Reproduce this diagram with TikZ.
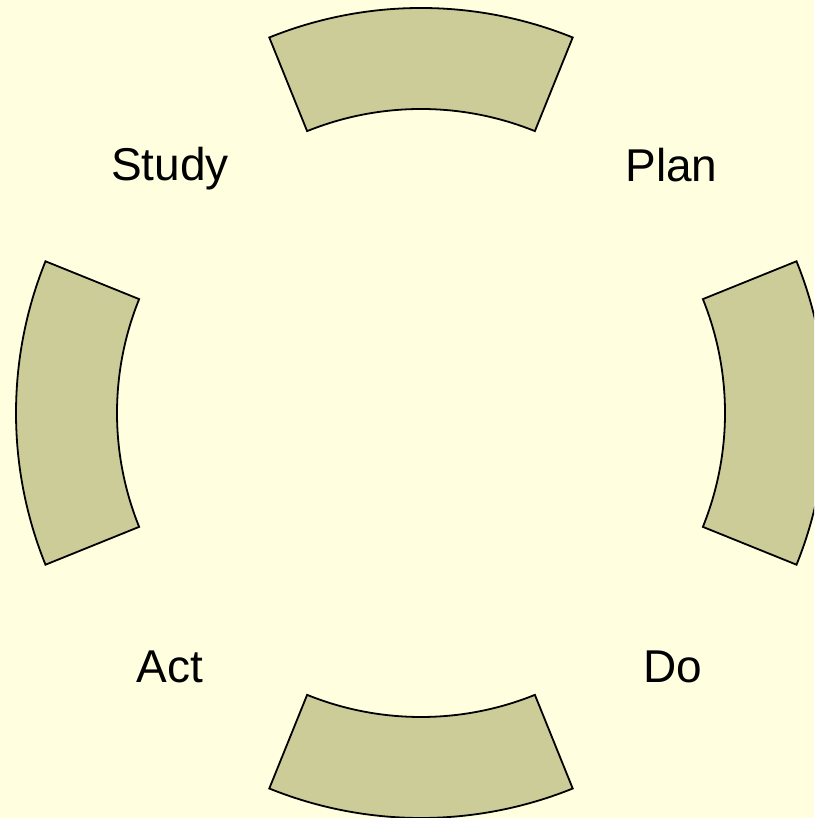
\documentclass[tikz,border=0pt]{standalone}
\usepackage{fontspec}
\setmainfont{Liberation Sans}
\definecolor{bgc}{HTML}{FFFFE0}
\definecolor{secc}{HTML}{CCCC99}
\begin{document}
\begin{tikzpicture}[x=1pt,y=1pt,
  sector/.style={draw=black, line width=1.8pt, fill=secc, line join=miter},
  lbl/.style={inner sep=0pt, anchor=base, font=\fontsize{46}{50}\selectfont}]
\useasboundingbox (0,0) rectangle (814,818);
\fill[bgc] (0,0) rectangle (814,818);
\begin{scope}
\clip (0,0) rectangle (814,818);
\foreach \c in {90,0,270,180}{
  \draw[sector, shift={(421,405)}]
    (\c-22:405) arc[start angle=\c-22, end angle=\c+22, radius=405]
    -- (\c+22:304) arc[start angle=\c+22, end angle=\c-22, radius=304] -- cycle;
}
\end{scope}
\node[lbl] (study) at (170,637) {Study};
\node[lbl] (plan) at (671.5,636) {Plan};
\node[lbl] (act) at (170,135) {Act};
\node[lbl] (do) at (673,135) {Do};
\end{tikzpicture}
\end{document}
